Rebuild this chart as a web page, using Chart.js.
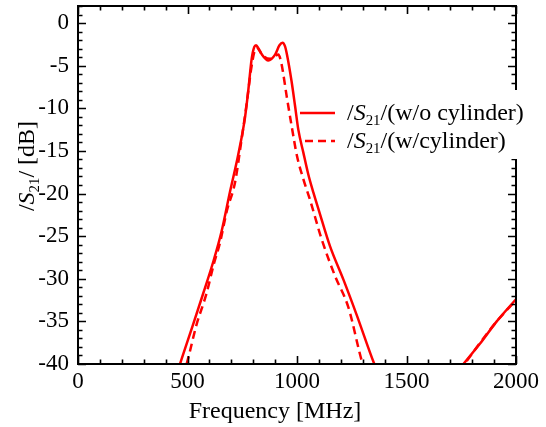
<!DOCTYPE html>
<html><head><meta charset="utf-8">
<script src="https://cdn.jsdelivr.net/npm/chart.js@4"></script>
<style>html,body{margin:0;padding:0;background:#fff}canvas{display:block}</style>
</head><body>
<canvas id="c" width="546" height="427"></canvas>
<script>
// ---- data ----
const freqSolid = [300,400,466,520,572,620,656,694,732,763,778,793,805,813,825,840,869,900,920,934,945,955,975,991,1006,1029,1052,1075,1100,1151,1212,1272,1353,1420,1500,1600,1700,1760,1836,1912,2000];
const dbSolid   = [-53,-45.5,-40,-35.8,-31.7,-27.8,-24.4,-19.8,-15.4,-11,-7.8,-4.2,-2.8,-2.6,-3,-3.7,-4.4,-3.7,-2.6,-2.3,-2.7,-3.8,-6.8,-9.7,-12.5,-15.2,-17.8,-19.9,-22,-26.2,-30.1,-34.2,-40,-44,-47,-46.5,-42,-40,-37.6,-35,-32.4];
const freqDashed = [300,400,496,540,587,620,648,680,717,745,770,790,805,815,825,840,877,900,915,925,935,953,975,1000,1030,1059,1113,1174,1234,1300,1380,1500,1600,1700,1765,1836,1912,2000];
const dbDashed   = [-56,-47,-40,-35.5,-31.7,-28.3,-25.8,-22,-18.7,-14,-9.5,-5.5,-3.4,-2.8,-3.1,-3.7,-4.2,-3.9,-3.7,-4.3,-5.6,-8.6,-12,-15.6,-18.4,-20.7,-25.4,-29.7,-33.3,-40,-45,-48,-47,-42.2,-40,-37.5,-35,-32.5];
const xTickLabels = [0,500,1000,1500,2000];
const yTickLabels = [0,-5,-10,-15,-20,-25,-30,-35,-40];
const seriesNames = ['(w/o cylinder)','(w/cylinder)'];
const xTitle = 'Frequency [MHz]';
const yTitleTail = '/ [dB]';

const RED = '#ff0000';
const FONT = '"Liberation Serif", "Times New Roman", serif';

function pts(xs, ys){ return xs.map((x,i)=>({x:x, y:ys[i]})); }

function richWidth(ctx, parts, size){
  let w=0;
  for(const p of parts){
    ctx.font = (p.it?'italic ':'') + (p.sub? size*0.62 : size) + 'px ' + FONT;
    w += ctx.measureText(p.t).width;
  }
  return w;
}
function drawRich(ctx, parts, x, y, size){
  for(const p of parts){
    const s = p.sub? size*0.62 : size;
    ctx.font = (p.it?'italic ':'') + s + 'px ' + FONT;
    ctx.fillText(p.t, x, y + (p.sub? size*0.22 : 0));
    x += ctx.measureText(p.t).width;
  }
}
function s21(tail){ return [{t:'/'},{t:'S',it:true},{t:'21',sub:true},{t:'/'+tail}]; }

const decor = {
  id:'decor',
  afterDraw(chart){
    const ctx = chart.ctx, a = chart.chartArea;
    const xs = chart.scales.x, ys = chart.scales.y;
    ctx.save();
    // ticks
    ctx.strokeStyle='#000'; ctx.lineWidth=1.6;
    ctx.beginPath();
    for(let v=0; v<=2000; v+=100){
      const px = Math.round(xs.getPixelForValue(v))+0.5;
      const L = (v%500===0)?8:4.5;
      ctx.moveTo(px,a.bottom); ctx.lineTo(px,a.bottom-L);
      ctx.moveTo(px,a.top); ctx.lineTo(px,a.top+L);
    }
    for(let v=-40; v<=2; v+=1){
      const py = Math.round(ys.getPixelForValue(v))+0.5;
      const L = (v%5===0)?8:4.5;
      ctx.moveTo(a.left,py); ctx.lineTo(a.left+L,py);
      ctx.moveTo(a.right,py); ctx.lineTo(a.right-L,py);
    }
    ctx.stroke();
    // frame
    ctx.lineWidth=2;
    ctx.strokeRect(a.left, a.top, a.right-a.left, a.bottom-a.top);
    // legend
    ctx.fillStyle='#fff';
    ctx.fillRect(339, 90, 200, 69);
    ctx.strokeStyle=RED; ctx.lineWidth=2.5;
    ctx.beginPath(); ctx.moveTo(300,113); ctx.lineTo(335,113); ctx.stroke();
    ctx.setLineDash([8,5]); ctx.lineDashOffset=-5;
    ctx.beginPath(); ctx.moveTo(300,141); ctx.lineTo(335,141); ctx.stroke();
    ctx.setLineDash([]);
    ctx.fillStyle='#000'; ctx.textAlign='left'; ctx.textBaseline='alphabetic';
    drawRich(ctx, s21(seriesNames[0]), 347, 120, 24);
    drawRich(ctx, s21(seriesNames[1]), 347, 148, 24);
    // x title
    ctx.font = '24px '+FONT; ctx.textAlign='center';
    ctx.fillText(xTitle, 275, 418);
    // y title
    ctx.textAlign='left';
    const parts = [{t:'/'},{t:'S',it:true},{t:'21',sub:true},{t:yTitleTail}];
    const w = richWidth(ctx, parts, 24);
    ctx.translate(34,166); ctx.rotate(-Math.PI/2);
    drawRich(ctx, parts, -w/2, 0, 24);
    ctx.restore();
  }
};

new Chart(document.getElementById('c'), {
  type:'line',
  data:{datasets:[
    {data:pts(freqSolid,dbSolid), borderColor:RED, borderWidth:2.5, pointRadius:0, cubicInterpolationMode:'monotone', fill:false},
    {data:pts(freqDashed,dbDashed), borderColor:RED, borderWidth:2.5, borderDash:[8,5], pointRadius:0, cubicInterpolationMode:'monotone', fill:false}
  ]},
  options:{
    responsive:false, animation:false, devicePixelRatio:1,
    layout:{padding:{left:0, top:6, right:30, bottom:0}},
    plugins:{legend:{display:false}, tooltip:{enabled:false}},
    scales:{
      x:{type:'linear', min:0, max:2000,
        grid:{display:false, drawTicks:false}, border:{display:false},
        afterBuildTicks(s){ s.ticks = xTickLabels.map(v=>({value:v})); },
        afterFit(s){ s.height = 63; s.paddingLeft = 0; s.paddingRight = 0; },
        ticks:{color:'#000', font:{family:FONT, size:23}, padding:4, maxRotation:0, autoSkip:false,
          callback:(v)=>String(v)}
      },
      y:{type:'linear', min:-40, max:2,
        grid:{display:false, drawTicks:false}, border:{display:false},
        afterBuildTicks(s){ s.ticks = yTickLabels.map(v=>({value:v})); },
        afterFit(s){ s.width = 78; s.paddingTop = 0; s.paddingBottom = 0; },
        ticks:{color:'#000', font:{family:FONT, size:23}, padding:9, autoSkip:false,
          callback:(v)=>String(v)}
      }
    }
  },
  plugins:[decor]
});
</script>
</body></html>
